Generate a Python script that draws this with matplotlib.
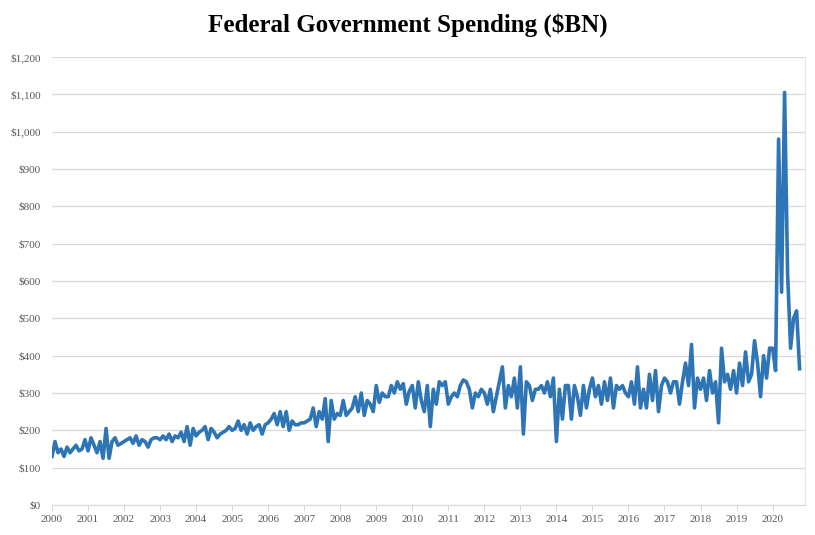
import numpy as np
import matplotlib.pyplot as plt
import matplotlib.ticker as mticker

# monthly values, $BN
y2000 = [130, 170, 140, 150, 130, 155, 140, 150, 160, 145, 150, 175]
y2001 = [145, 180, 160, 140, 170, 125, 205, 125, 170, 180, 160, 165]
y2002 = [170, 175, 180, 165, 185, 160, 175, 170, 155, 175, 180, 180]
y2003 = [175, 185, 175, 190, 170, 185, 180, 195, 170, 210, 160, 205]
y2004 = [185, 195, 200, 210, 175, 205, 195, 180, 190, 195, 200, 210]
y2005 = [200, 205, 225, 200, 215, 190, 220, 200, 210, 215, 190, 215]
y2006 = [220, 230, 245, 215, 250, 210, 250, 200, 225, 215, 215, 220]
y2007 = [220, 225, 230, 260, 210, 250, 230, 285, 170, 280, 230, 245]
y2008 = [240, 280, 240, 250, 260, 290, 250, 300, 240, 280, 270, 250]
y2009 = [320, 275, 300, 290, 290, 320, 300, 330, 310, 325, 270, 305]
y2010 = [320, 260, 330, 280, 250, 320, 210, 310, 270, 330, 320, 330]
y2011 = [270, 290, 300, 290, 320, 335, 330, 310, 260, 300, 290, 310]
y2012 = [300, 270, 310, 250, 290, 330, 370, 260, 320, 290, 340, 260]
y2013 = [370, 190, 330, 320, 280, 310, 310, 320, 300, 330, 290, 340]
y2014 = [170, 310, 230, 320, 320, 230, 320, 290, 240, 320, 260, 310]
y2015 = [340, 290, 320, 270, 330, 280, 340, 260, 320, 310, 320, 300]
y2016 = [290, 330, 270, 370, 260, 310, 260, 350, 280, 360, 250, 320]
y2017 = [340, 330, 300, 330, 330, 270, 330, 380, 320, 430, 260, 340]
y2018 = [310, 340, 280, 360, 300, 330, 220, 420, 330, 350, 310, 360]
y2019 = [300, 380, 320, 410, 330, 350, 440, 380, 290, 400, 340, 420]
y2020 = [420, 360, 980, 570, 1105, 620, 420, 500, 520, 365]

values = (y2000 + y2001 + y2002 + y2003 + y2004 + y2005 + y2006 + y2007 +
          y2008 + y2009 + y2010 + y2011 + y2012 + y2013 + y2014 + y2015 +
          y2016 + y2017 + y2018 + y2019 + y2020)
years = list(range(2000, 2021))
x = 2000 + np.arange(len(values)) / 12

fig = plt.figure(figsize=(8.15, 5.35), dpi=100)
ax = fig.add_axes([52 / 815, 30 / 535, 753 / 815, 448 / 535])
ax.plot(x, values, color='#2e75b6', lw=2.6, solid_joinstyle='round')

ax.set_xlim(2000, 2020.9)
ax.set_ylim(0, 1200)
ax.set_xticks(years)
ax.set_xticklabels([str(y) for y in years])
ax.yaxis.set_major_locator(mticker.MultipleLocator(100))
ax.yaxis.set_major_formatter(mticker.FuncFormatter(lambda v, p: f'${v:,.0f}'))
ax.grid(axis='y', color='#d9d9d9', lw=0.9)
ax.set_axisbelow(True)
for s in ['top', 'left']:
    ax.spines[s].set_visible(False)
ax.spines['bottom'].set_color('#d9d9d9')
ax.spines['right'].set_color('#e6e6e6')
ax.tick_params(axis='y', length=0, labelsize=8, colors='#595959', pad=8)
ax.tick_params(axis='x', length=4, color='#d9d9d9', labelsize=8, colors='#595959')
for lab in ax.get_xticklabels() + ax.get_yticklabels():
    lab.set_fontfamily('Liberation Serif')

fig.suptitle('Federal Government Spending ($BN)', y=0.975, fontsize=18,
             fontweight='bold', fontfamily='Liberation Serif')

fig.savefig('out.png', dpi=100)
